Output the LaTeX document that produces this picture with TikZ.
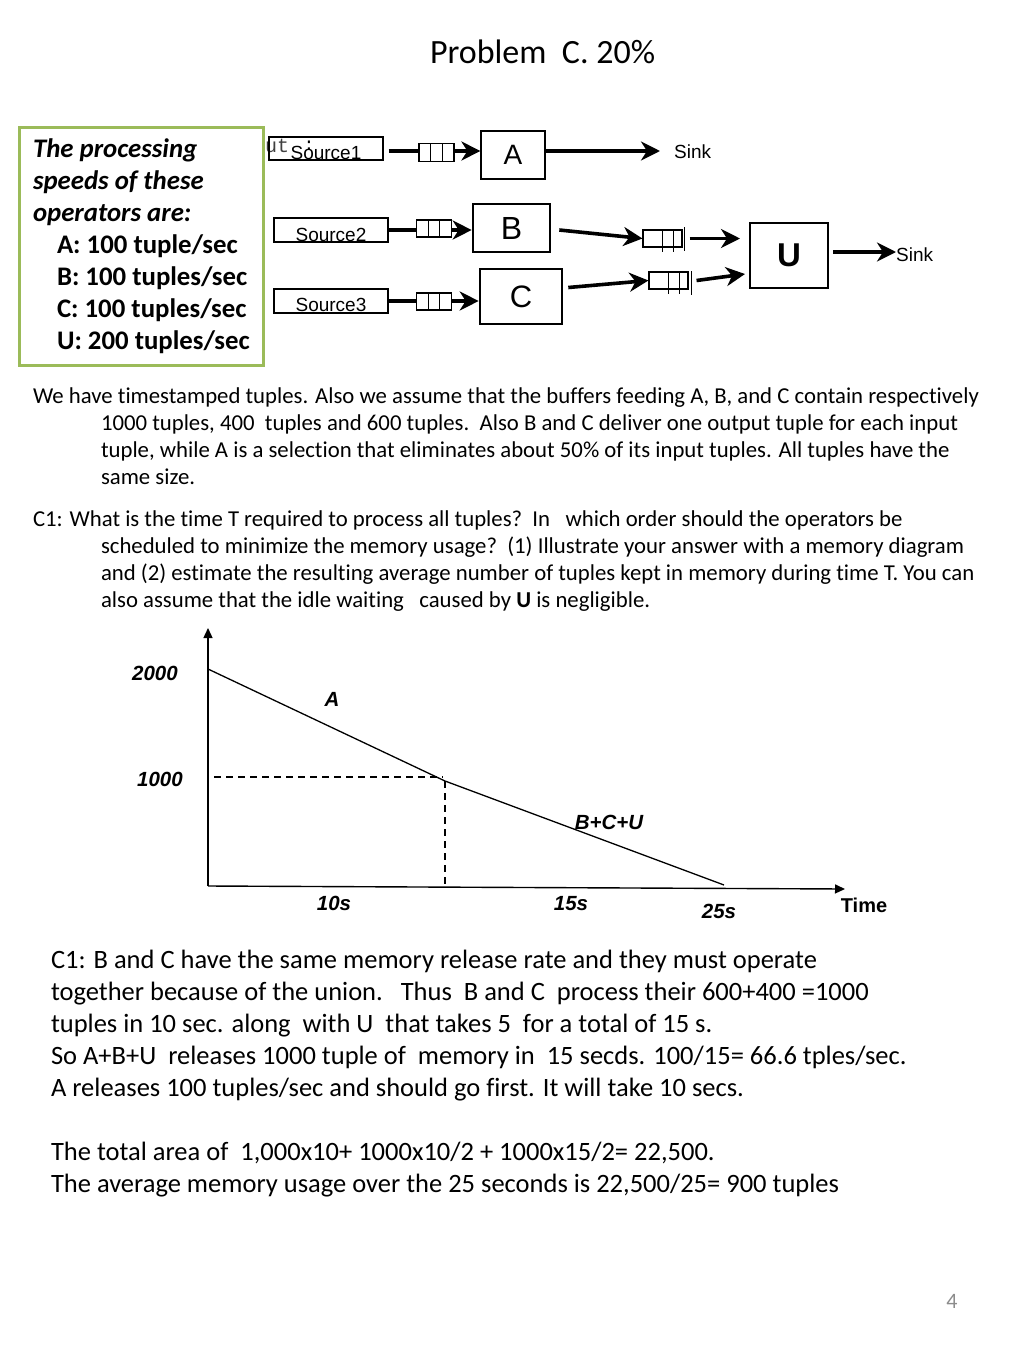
\documentclass[tikz,border=0pt]{standalone}
\usepackage{fontspec}
\setmainfont{Carlito}[Ligatures={NoCommon}]
\newfontfamily\arialf{Liberation Sans}
\newfontfamily\monof{Liberation Mono}
\usetikzlibrary{arrows.meta,calc}
\definecolor{boxgreen}{RGB}{155,187,89}
\definecolor{pagegray}{RGB}{140,140,140}
\newcommand{\fsz}[1]{\fontsize{#1}{#1}\selectfont}
\begin{document}
\begin{tikzpicture}[x=1pt,y=-1pt,
  txt/.style={anchor=base west,inner sep=0pt,outer sep=0pt},
  body/.style={txt,font=\fsz{22.75}},
  ans/.style={txt,font=\fsz{26.5}},
  spd/.style={txt,font=\bfseries\itshape\fsz{26.8}},
  spdv/.style={txt,font=\bfseries\fsz{26.8}},
  srcbox/.style={draw,line width=1.1pt,inner sep=0pt,minimum width=114pt},
  srctxt/.style={anchor=base,inner sep=0pt,font=\arialf\fsz{19}},
  sinktxt/.style={anchor=west,inner sep=0pt,font=\arialf\fsz{19}},
  opbox/.style={draw,inner sep=0pt},
  queuethree/.style={draw,fill=white,line width=1.1pt,inner sep=0pt,minimum width=35pt,minimum height=18pt,
     path picture={\foreach \qq in {1,2}{\draw[line width=1.1pt] ($(path picture bounding box.north west)!\qq/3!(path picture bounding box.north east)$) -- ($(path picture bounding box.south west)!\qq/3!(path picture bounding box.south east)$);}}},
  qbox/.style={draw,fill=white,line width=1.1pt,inner sep=0pt,minimum width=39pt,minimum height=17pt},
  flow/.style={line width=3.6pt,-{Stealth[length=19pt,width=19pt,inset=6pt]}},
  feed/.style={line width=3.6pt},
  chartlbl/.style={font=\arialf\bfseries\itshape\fsz{20.5},inner sep=0pt},
  axisline/.style={line width=1.4pt,-{Triangle[length=10pt,width=9pt]}},
  guide/.style={line width=1.2pt,dash pattern=on 7pt off 5pt},
]
\fill[white] (0,0) rectangle (1024,1365);
\useasboundingbox (0,0) rectangle (1024,1365);

% title
\node[txt,font=\fsz{34}] (title) at (430,63) {Problem\ \ C. 20\%};

% speeds box
\node[draw=boxgreen,line width=3pt,minimum width=244pt,minimum height=238pt,inner sep=0pt] (speeds) at (141,246) {};
\node[spd] (sp1) at (33,157) {The processing};
\node[spd] (sp2) at (33,189) {speeds of these};
\node[spd] (sp3) at (33,221) {operators are:};
\node[spdv] (sp4) at (57,253) {A: 100 tuple/sec};
\node[spdv] (sp5) at (57,285) {B: 100 tuples/sec};
\node[spdv] (sp6) at (57,317) {C: 100 tuples/sec};
\node[spdv] (sp7) at (57,349) {U: 200 tuples/sec};

% stray text
\node[txt,font=\monof\fsz{20},text=black!75] (ut) at (265,152) {ut};
\node[anchor=base,inner sep=0pt,font=\monof\fsz{18}] (utc) at (309,150) {:};

% sources
\node[srcbox,minimum height=23pt] (s1) at (326,148.5) {};
\node[srctxt] (s1t) at (326,159) {Source1};
\node[srcbox,minimum height=24pt] (s2) at (331,230) {};
\node[srctxt] (s2t) at (331,241) {Source2};
\node[srcbox,minimum height=24pt] (s3) at (331,301) {};
\node[srctxt] (s3t) at (331,311) {Source3};

% operators
\node[opbox,line width=1.2pt,minimum width=64pt,minimum height=48pt,font=\arialf\fsz{28}] (A) at (513,155) {A};
\node[opbox,line width=2.6pt,minimum width=77pt,minimum height=48pt,font=\arialf\fsz{32}] (B) at (511.5,228) {B};
\node[opbox,line width=2.6pt,minimum width=82pt,minimum height=55pt,font=\arialf\fsz{31}] (C) at (521,296.5) {C};
\node[opbox,line width=2.6pt,minimum width=78pt,minimum height=65pt,font=\arialf\bfseries\fsz{33}] (U) at (789,255.5) {U};

% input queues
\node[queuethree] (q1) at (436.5,152.5) {};
\node[queuethree,minimum height=17pt] (q2) at (434,228.5) {};
\node[queuethree,minimum height=17pt] (q3) at (434,301.5) {};

% sinks
\node[sinktxt] (sink1) at (674,152) {Sink};
\node[sinktxt] (sink2) at (896,255) {Sink};

% feeds
\draw[feed,shorten <=5pt] ([yshift=-2.5pt]s1.east) -- ([yshift=-2.5pt]s1.east -| q1.west);
\draw[flow] ([yshift=1.5pt]q1.east) -- ([yshift=1.5pt]q1.east -| A.west);
\draw[feed] (s2.east) -- (s2.east -| q2.west);
\draw[flow] (q2.east |- s2.east) -- (s2.east -| B.west);
\draw[feed] (s3.east) -- (s3.east -| q3.west);
\draw[flow] (q3.east |- s3.east) -- (s3.east -| C.west);
\draw[flow,shorten >=14pt] ([yshift=4pt]A.east) -- ([yshift=4pt]A.east -| sink1.west);

% output queues of B and C
\node[qbox] (qb) at (662.5,238.5) {};
\node[qbox] (qc) at (668.5,280.5) {};
\foreach \qn in {qb,qc}{
  \draw[line width=1.1pt] ($(\qn.north west)!0.51!(\qn.north east)$) -- ($(\qn.south west)!0.51!(\qn.south east)$) -- ++(0,4);
  \draw[line width=1.1pt] ($(\qn.north west)!0.78!(\qn.north east)$) -- ($(\qn.south west)!0.78!(\qn.south east)$) -- ++(0,4);
}
\draw[line width=1.6pt] ([xshift=2pt]qb.north east) ++(0,-2) -- ++(0,24);
\draw[line width=1.6pt] ([xshift=3pt]qc.north east) -- ++(0,24);
\draw[flow] ([shift={(8pt,-2pt)}]B.east) -- (qb.west);
\draw[flow] ([shift={(5pt,9pt)}]C.east) -- (qc.west);
\coordinate (bbar) at ([xshift=7pt]qb.east);
\coordinate (cbar) at ([xshift=8pt]qc.east);
\coordinate (ub) at (740,238.5);
\coordinate (uc) at (745,274);
\draw[flow] (bbar) -- (ub);
\draw[flow] (cbar) -- (uc);
\draw[flow] ([shift={(4pt,3.5pt)}]U.east) -- ([yshift=3.5pt]U.east -| sink2.west);

% body text
\node[body] (p1) at (33,403) {We have timestamped tuples. Also we assume that the buffers feeding A, B, and C contain respectively};
\node[body] (p2) at (101,430) {1000 tuples, 400\ \ tuples and 600 tuples.\ \ Also B and C deliver one output tuple for each input};
\node[body] (p3) at (101,457) {tuple, while A is a selection that eliminates about 50\% of its input tuples. All tuples have the};
\node[body] (p4) at (101,484) {same size.};
\node[body] (c1) at (33,526) {C1: What is the time T required to process all tuples?\ \ In\ \ \ which order should the operators be};
\node[body] (c2) at (101,553) {scheduled to minimize the memory usage?\ \ (1) Illustrate your answer with a memory diagram};
\node[body] (c3) at (101,580) {and (2) estimate the resulting average number of tuples kept in memory during time T. You can};
\node[body] (c4) at (101,607) {also assume that the idle waiting\ \ \ caused by \textbf{U} is negligible.};

% chart
\draw[axisline] (208,886) -- (208,628);
\draw[axisline] (208,886) -- (845,889);
\draw[line width=1.3pt] (208,669) -- (445,781) -- (724,885);
\draw[guide] (214,777) -- (443,777);
\draw[guide] (445,781) -- (445,886);
\node[chartlbl] (l2000) at (155,673) {2000};
\node[chartlbl] (l1000) at (160,779) {1000};
\node[chartlbl] (lA) at (332,699) {A};
\node[chartlbl] (lBCU) at (609,822) {B+C+U};
\node[chartlbl] (l10) at (334,903) {10s};
\node[chartlbl] (l15) at (571,904) {15s};
\node[chartlbl] (l25) at (719,911) {25s};
\node[font=\arialf\bfseries\fsz{20},inner sep=0pt] (ltime) at (864,905) {Time};

% answer text
\node[ans] (a1) at (51,968) {C1: B and C have the same memory release rate and they must operate};
\node[ans] (a2) at (51,1000) {together because of the union.\ \ \ Thus\ \ B and C\ \ process their 600+400 =1000};
\node[ans] (a3) at (51,1032) {tuples in 10 sec. along\ \ with U\ \ that takes 5\ \ for a total of 15 s.};
\node[ans] (a4) at (51,1064) {So A+B+U\ \ releases 1000 tuple of\ \ memory in\ \ 15 secds. 100/15= 66.6 tples/sec.};
\node[ans] (a5) at (51,1096) {A releases 100 tuples/sec and should go first. It will take 10 secs.};
\node[ans] (a6) at (51,1160) {The total area of\ \ 1,000x10+ 1000x10/2 + 1000x15/2= 22,500.};
\node[ans] (a7) at (51,1192) {The average memory usage over the 25 seconds is 22,500/25= 900 tuples};

% page number
\node[font=\fsz{22},text=pagegray,inner sep=0pt] (pg) at (952,1301) {4};
\end{tikzpicture}
\end{document}
